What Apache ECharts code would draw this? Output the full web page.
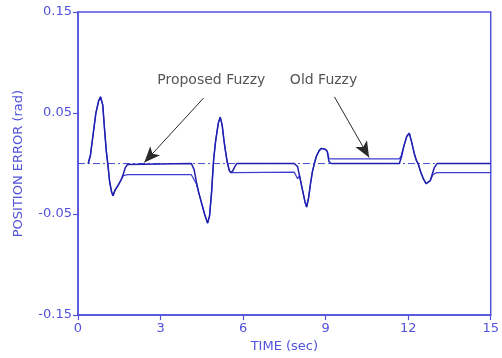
<!DOCTYPE html>
<html>
<head>
<meta charset="utf-8">
<script src="https://cdn.jsdelivr.net/npm/echarts@6/dist/echarts.min.js"></script>
<style>
  html, body { margin: 0; padding: 0; background: #fff; }
  #chart { width: 502px; height: 358px; }
</style>
</head>
<body>
<div id="chart"></div>
<script>
// time (sec)
const timeSec = [
  0.37, 0.45, 0.55, 0.65, 0.75, 0.82, 0.9, 0.97, 1.03, 1.09, 1.15, 1.22, 1.27, 1.35, 1.45, 1.57, 1.65, 1.72, 1.8, 1.85,
  4.12, 4.17, 4.22, 4.3, 4.39, 4.5, 4.6, 4.71, 4.78, 4.85, 4.93, 5.0, 5.1, 5.17, 5.24, 5.3, 5.35, 5.42, 5.5, 5.56, 5.63, 5.7, 5.77,
  7.86, 7.92, 7.98, 8.05, 8.15, 8.25, 8.31, 8.38, 8.45, 8.52, 8.59, 8.66, 8.77, 8.85, 8.92, 9.0, 9.06, 9.12, 9.2,
  11.68, 11.75, 11.85, 11.95, 12.04, 12.12, 12.22, 12.3, 12.36, 12.45, 12.55, 12.65, 12.72, 12.8, 12.88, 12.95, 13.05, 15
];
const proposedFuzzy = [
  0, 0.008, 0.029, 0.05, 0.062, 0.066, 0.058, 0.032, 0.012, -0.002, -0.018, -0.028, -0.032, -0.026, -0.022, -0.016, -0.01, -0.004, -0.001, 0,
  0, -0.001, -0.006, -0.018, -0.029, -0.04, -0.05, -0.059, -0.052, -0.03, 0.004, 0.022, 0.04, 0.046, 0.038, 0.024, 0.014, 0.002, -0.007, -0.009, -0.007, -0.003, 0,
  0, 0, -0.003, -0.012, -0.025, -0.038, -0.043, -0.034, -0.02, -0.008, 0, 0.007, 0.013, 0.015, 0.0155, 0.014, 0.012, 0.002, 0,
  0, 0.006, 0.018, 0.027, 0.03, 0.022, 0.01, 0.003, 0, -0.008, -0.015, -0.02, -0.021, -0.017, -0.01, -0.004, 0, 0
];
const oldFuzzy = [
  0, 0.008, 0.029, 0.05, 0.062, 0.066, 0.058, 0.032, 0.012, -0.002, -0.018, -0.028, -0.032, -0.026, -0.022, -0.016, -0.012, -0.011, -0.011, -0.011,
  -0.011, -0.012, -0.016, -0.02, -0.029, -0.04, -0.05, -0.059, -0.052, -0.03, 0.004, 0.022, 0.04, 0.046, 0.038, 0.024, 0.014, 0.002, -0.007, -0.009, -0.009, -0.009, -0.0085,
  -0.0085, -0.01, -0.015, -0.012, -0.025, -0.038, -0.043, -0.034, -0.02, -0.008, 0, 0.007, 0.013, 0.015, 0.0155, 0.014, 0.012, 0.005, 0.0046,
  0.0046, 0.008, 0.018, 0.027, 0.03, 0.022, 0.01, 0.003, 0, -0.008, -0.015, -0.02, -0.021, -0.017, -0.012, -0.01, -0.009, -0.009
];
const referenceTime = [0, 15];
const referenceValue = [0, 0];
const yTicks = [-0.15, -0.05, 0.05, 0.15];

// annotation text and arrows, in data units
const notes = [
  { text: 'Proposed Fuzzy', at: [2.88, 0.082], from: [4.57, 0.065], to: [2.41, 0.001] },
  { text: 'Old Fuzzy', at: [7.7, 0.082], from: [9.32, 0.066], to: [10.58, 0.006] }
];

const AXIS_BLUE = '#5252dc';
const FONT = 'DejaVu Sans';

const chart = echarts.init(document.getElementById('chart'), null, { renderer: 'canvas' });

const pairs = (xs, ys) => xs.map((x, i) => [x, ys[i]]);

chart.setOption({
  animation: false,
  grid: {
    left: 78, right: 7, top: 12, bottom: 42,
    show: true, borderColor: AXIS_BLUE, borderWidth: 1.5, backgroundColor: 'transparent'
  },
  xAxis: {
    type: 'value', min: 0, max: 15, interval: 3,
    name: 'TIME (sec)', nameLocation: 'middle', nameGap: 24,
    nameTextStyle: { color: AXIS_BLUE, fontFamily: FONT, fontSize: 13 },
    axisLine: { onZero: false, lineStyle: { color: AXIS_BLUE, width: 1.5 } },
    axisTick: { show: true, inside: false, length: 5, lineStyle: { color: AXIS_BLUE, width: 1.2 } },
    axisLabel: { color: AXIS_BLUE, fontFamily: FONT, fontSize: 13, margin: 7 },
    splitLine: { show: false }
  },
  yAxis: {
    type: 'value', min: -0.15, max: 0.15,
    name: 'POSITION ERROR (rad)', nameLocation: 'middle', nameGap: 53,
    nameTextStyle: { color: AXIS_BLUE, fontFamily: FONT, fontSize: 13 },
    axisLine: { show: true, onZero: false, lineStyle: { color: AXIS_BLUE, width: 1.5 } },
    axisTick: { show: true, inside: false, length: 5, lineStyle: { color: AXIS_BLUE, width: 1.2 }, customValues: yTicks },
    axisLabel: {
      color: AXIS_BLUE, fontFamily: FONT, fontSize: 13, margin: 6, customValues: yTicks,
      formatter: (v) => (Math.round(v * 100) / 100).toString()
    },
    splitLine: { show: false }
  },
  series: [
    {
      name: 'reference',
      type: 'line',
      data: pairs(referenceTime, referenceValue),
      showSymbol: false,
      lineStyle: { color: '#4a4ad8', width: 1, type: [7, 3, 2, 3] },
      markLine: {
        silent: true,
        symbol: ['none', 'arrow'],
        symbolSize: [10, 16],
        label: { show: false },
        lineStyle: { color: '#2a2a2a', width: 1, type: 'solid' },
        data: notes.map((n) => [{ coord: n.from }, { coord: n.to }])
      }
    },
    {
      name: 'Old Fuzzy',
      type: 'line',
      data: pairs(timeSec, oldFuzzy),
      showSymbol: false,
      lineStyle: { color: '#3d3dd2', width: 1.2 }
    },
    {
      name: 'Proposed Fuzzy',
      type: 'line',
      data: pairs(timeSec, proposedFuzzy),
      showSymbol: false,
      lineStyle: { color: '#2020b0', width: 1.5 }
    }
  ]
});

chart.setOption({
  graphic: notes.map((n) => {
    const p = chart.convertToPixel({ gridIndex: 0 }, n.at);
    return {
      type: 'text', x: p[0], y: p[1],
      style: { text: n.text, fill: '#555', font: '14px "DejaVu Sans"', textVerticalAlign: 'middle' }
    };
  })
});
</script>
</body>
</html>
